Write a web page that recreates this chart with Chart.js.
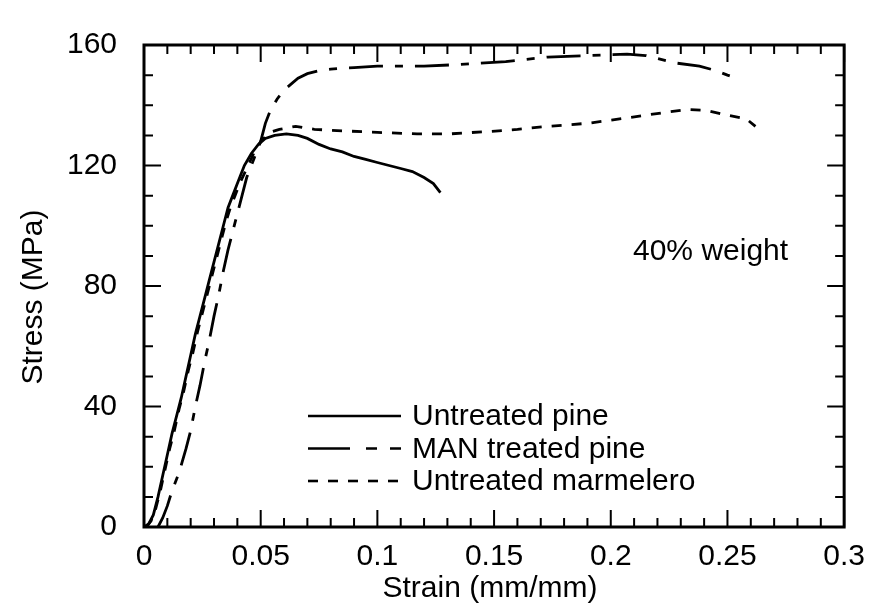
<!DOCTYPE html>
<html>
<head>
<meta charset="utf-8">
<script src="https://cdn.jsdelivr.net/npm/chart.js@4.4.0/dist/chart.umd.min.js"></script>
<style>
  html, body { margin: 0; padding: 0; background: #fff; }
  canvas { display: block; }
</style>
</head>
<body>
<canvas id="myChart" width="877" height="611"></canvas>
<script>
// Untreated pine (solid line)
const pineStrain = [0, 0.002, 0.004, 0.006, 0.008, 0.010, 0.012, 0.014, 0.016, 0.018, 0.020, 0.022, 0.024, 0.026, 0.028, 0.030, 0.032, 0.034, 0.036, 0.038, 0.040, 0.043, 0.046, 0.049, 0.052, 0.056, 0.061, 0.066, 0.070, 0.075, 0.080, 0.085, 0.090, 0.095, 0.100, 0.105, 0.110, 0.115, 0.120, 0.124, 0.127];
const pineStress = [0, 1, 4, 10, 17, 24, 31, 37, 43, 50, 57, 64, 70, 76, 82, 88, 94, 100, 106, 110, 114, 120, 124, 127, 129, 130, 130.5, 130, 129, 127, 125.5, 124.5, 123, 122, 121, 120, 119, 118, 116, 114, 111];

// MAN treated pine (long / short dashes)
const manStrain = [0.006, 0.008, 0.010, 0.012, 0.015, 0.018, 0.020, 0.022, 0.024, 0.026, 0.028, 0.030, 0.032, 0.034, 0.036, 0.038, 0.040, 0.042, 0.044, 0.047, 0.050, 0.052, 0.054, 0.057, 0.060, 0.063, 0.066, 0.070, 0.075, 0.080, 0.090, 0.100, 0.110, 0.120, 0.135, 0.155, 0.173, 0.190, 0.207, 0.215, 0.220, 0.228, 0.238, 0.245, 0.250, 0.252];
const manStress = [0, 3, 7, 12, 18, 26, 32, 40, 47, 55, 62, 70, 77, 85, 92, 98, 104, 110, 116, 122, 128, 134, 138, 142, 145, 147, 149, 150.5, 151.5, 152, 152.5, 153, 153, 153, 153.5, 154.5, 156, 156.5, 157, 156.5, 155.5, 154, 153, 151.5, 150, 149.5];

// Untreated marmelero (short dashes)
const marmStrain = [0.001, 0.003, 0.005, 0.007, 0.009, 0.011, 0.013, 0.015, 0.017, 0.019, 0.021, 0.023, 0.025, 0.027, 0.029, 0.031, 0.033, 0.035, 0.037, 0.039, 0.041, 0.044, 0.047, 0.050, 0.054, 0.058, 0.065, 0.073, 0.085, 0.100, 0.117, 0.131, 0.148, 0.160, 0.173, 0.190, 0.207, 0.224, 0.233, 0.241, 0.250, 0.258, 0.262];
const marmStress = [0, 2, 6, 12, 19, 26, 32, 39, 45, 52, 58, 65, 71, 77, 83, 89, 95, 101, 106, 110, 114, 119, 124, 128, 131, 132, 133, 132, 131.5, 131, 130.5, 130.5, 131.3, 132, 133, 134, 135.8, 137.7, 138.6, 138.3, 136.7, 135.5, 133];

const seriesNames = ["Untreated pine", "MAN treated pine", "Untreated marmelero"];

const xTickValues = [0, 0.05, 0.1, 0.15, 0.2, 0.25, 0.3];
const xTickLabels = ["0", "0.05", "0.1", "0.15", "0.2", "0.25", "0.3"];
const yTickValues = [0, 40, 80, 120, 160];
const yTickLabels = ["0", "40", "80", "120", "160"];

const FONT = "'Liberation Sans', Arial, Helvetica, sans-serif";

const toPoints = (xs, ys) => xs.map((v, i) => ({ x: v, y: ys[i] }));

// frame, inward ticks, legend and texts drawn on top
const framePlugin = {
  id: "frame",
  afterDraw(chart) {
    const { ctx, chartArea: a, scales } = chart;
    const x = scales.x, y = scales.y;
    ctx.save();
    ctx.strokeStyle = "#000";
    ctx.lineWidth = 2;
    ctx.beginPath();
    for (let i = 0; i <= 30; i++) {
      const px = x.getPixelForValue(i / 100);
      const len = i % 5 === 0 ? 17 : 9;
      ctx.moveTo(px, a.bottom); ctx.lineTo(px, a.bottom - len);
      ctx.moveTo(px, a.top); ctx.lineTo(px, a.top + len);
    }
    for (let v = 0; v <= 160; v += 10) {
      const py = y.getPixelForValue(v);
      const len = v % 40 === 0 ? 17 : 9;
      ctx.moveTo(a.left, py); ctx.lineTo(a.left + len, py);
      ctx.moveTo(a.right, py); ctx.lineTo(a.right - len, py);
    }
    ctx.stroke();
    ctx.lineWidth = 3;
    ctx.strokeRect(a.left, a.top, a.right - a.left, a.bottom - a.top);

    // legend
    const legendDash = [[], [42, 16, 11, 13], [10, 10]];
    ctx.font = "30px " + FONT;
    ctx.fillStyle = "#000";
    ctx.textBaseline = "middle";
    ctx.textAlign = "left";
    seriesNames.forEach((name, i) => {
      const ly = 416 + i * 32.5;
      ctx.lineWidth = 2.6;
      ctx.setLineDash(legendDash[i]);
      ctx.beginPath();
      ctx.moveTo(308, ly); ctx.lineTo(401, ly);
      ctx.stroke();
      ctx.setLineDash([]);
      ctx.fillText(name, 412, ly + 1);
    });

    // annotation
    ctx.textBaseline = "alphabetic";
    ctx.fillText("40% weight", 633, 260);

    // axis titles
    ctx.textAlign = "center";
    ctx.fillText("Strain (mm/mm)", 490, 597);
    ctx.translate(42, 297);
    ctx.rotate(-Math.PI / 2);
    ctx.fillText("Stress (MPa)", 0, 0);
    ctx.restore();
  }
};

const lineStyle = {
  borderColor: "#000",
  borderWidth: 2.8,
  pointRadius: 0,
  fill: false,
  tension: 0
};

new Chart(document.getElementById("myChart").getContext("2d"), {
  type: "line",
  data: {
    datasets: [
      { label: seriesNames[0], data: toPoints(pineStrain, pineStress), ...lineStyle },
      { label: seriesNames[1], data: toPoints(manStrain, manStress), ...lineStyle, borderDash: [34, 12, 8, 12] },
      { label: seriesNames[2], data: toPoints(marmStrain, marmStress), ...lineStyle, borderDash: [10, 10] }
    ]
  },
  options: {
    responsive: false,
    animation: false,
    devicePixelRatio: 1,
    layout: { padding: { left: 0, right: 25, top: 25, bottom: 0 } },
    plugins: { legend: { display: false }, tooltip: { enabled: false } },
    scales: {
      x: {
        type: "linear",
        min: 0,
        max: 0.3,
        grid: { display: false, drawTicks: false },
        border: { display: false },
        afterBuildTicks: (s) => { s.ticks = xTickValues.map((v) => ({ value: v })); },
        afterFit: (s) => { s.height = 84; },
        ticks: {
          color: "#000",
          font: { family: FONT, size: 30 },
          padding: 12,
          maxRotation: 0,
          autoSkip: false,
          callback: (v) => xTickLabels[xTickValues.indexOf(v)] ?? ""
        }
      },
      y: {
        type: "linear",
        min: 0,
        max: 160,
        grid: { display: false, drawTicks: false },
        border: { display: false },
        afterBuildTicks: (s) => { s.ticks = yTickValues.map((v) => ({ value: v })); },
        afterFit: (s) => { s.width = 144; },
        ticks: {
          color: "#000",
          font: { family: FONT, size: 30 },
          padding: 27,
          autoSkip: false,
          callback: (v) => yTickLabels[yTickValues.indexOf(v)] ?? ""
        }
      }
    }
  },
  plugins: [framePlugin]
});
</script>
</body>
</html>
